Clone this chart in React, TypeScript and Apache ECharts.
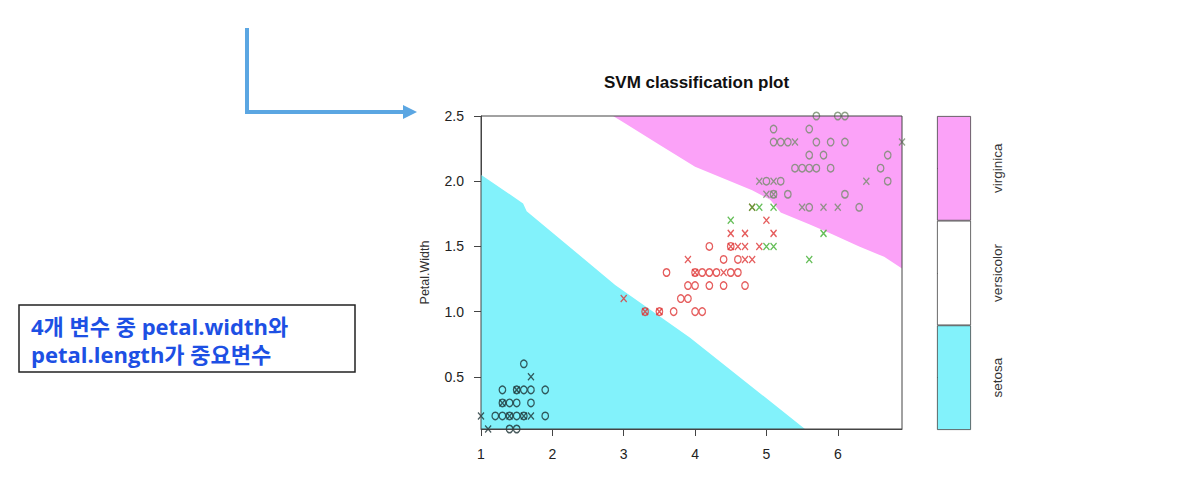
import React, { useEffect, useRef } from 'react';
import * as echarts from 'echarts';

// ---- axis ticks / categories ----
const xTicks = [1, 2, 3, 4, 5, 6];
const yTicks = [0.5, 1.0, 1.5, 2.0, 2.5];
const classNames = ['setosa', 'versicolor', 'virginica'];

// ---- decision region boundaries (Petal.Length, Petal.Width) ----
const setosaEdge = [
  [1.0, 2.05], [1.59, 1.83], [1.64, 1.77], [2.88, 1.205], [3.93, 0.8], [5.54, 0.1],
];
const virginicaEdge = [
  [2.85, 2.5], [3.0, 2.45], [3.5, 2.28], [4.0, 2.11], [4.4, 2.02], [4.8, 1.93], [5.05, 1.86],
  [5.2, 1.76], [5.6, 1.67], [5.9, 1.6], [6.3, 1.5], [6.65, 1.42], [6.9, 1.33],
];

// ---- data points: o = data point, x = support vector ----
const setosaO = [
  [1.6, 0.6], [1.3, 0.4], [1.5, 0.4], [1.6, 0.4], [1.7, 0.4], [1.9, 0.4], [1.3, 0.3], [1.4, 0.3],
  [1.5, 0.3], [1.7, 0.3], [1.2, 0.2], [1.3, 0.2], [1.4, 0.2], [1.5, 0.2], [1.6, 0.2], [1.9, 0.2],
  [1.4, 0.1], [1.5, 0.1],
];
const setosaX = [
  [1.7, 0.5], [1.5, 0.4], [1.3, 0.3], [1.0, 0.2], [1.4, 0.2], [1.6, 0.2], [1.7, 0.2], [1.1, 0.1],
];
const versicolorO = [
  [3.6, 1.3], [4.0, 1.3], [4.1, 1.3], [4.2, 1.3], [4.3, 1.3], [4.5, 1.3], [4.6, 1.3], [3.9, 1.2],
  [4.0, 1.2], [4.2, 1.2], [4.4, 1.2], [4.7, 1.2], [3.8, 1.1], [3.9, 1.1], [3.3, 1.0], [3.5, 1.0],
  [3.7, 1.0], [4.0, 1.0], [4.1, 1.0], [4.2, 1.5], [4.5, 1.5], [4.4, 1.4], [4.6, 1.4],
];
const versicolorX = [
  [3.9, 1.4], [4.7, 1.4], [4.8, 1.4], [4.0, 1.3], [4.4, 1.3], [3.0, 1.1], [3.3, 1.0], [3.5, 1.0],
  [4.5, 1.5], [4.6, 1.5], [4.7, 1.5], [4.9, 1.5], [4.5, 1.6], [4.7, 1.6], [5.1, 1.6], [5.0, 1.7],
  [4.8, 1.8],
];
const virginicaO = [
  [5.7, 2.5], [6.0, 2.5], [6.1, 2.5], [5.1, 2.4], [5.6, 2.4], [5.1, 2.3], [5.2, 2.3], [5.3, 2.3],
  [5.7, 2.3], [5.9, 2.3], [6.1, 2.3], [5.6, 2.2], [5.8, 2.2], [6.7, 2.2], [5.4, 2.1], [5.5, 2.1],
  [5.6, 2.1], [5.7, 2.1], [5.9, 2.1], [6.6, 2.1], [5.0, 2.0], [5.2, 2.0], [6.7, 2.0], [5.1, 1.9],
  [5.3, 1.9], [6.1, 1.9], [5.6, 1.8], [6.3, 1.8],
];
const virginicaX = [
  [5.4, 2.3], [6.9, 2.3], [4.9, 2.0], [5.1, 2.0], [6.4, 2.0], [5.0, 1.9], [5.1, 1.9], [5.5, 1.8],
  [5.8, 1.8], [6.0, 1.8],
];
const virginicaXOutside = [
  [4.8, 1.8], [4.9, 1.8], [5.1, 1.8], [4.5, 1.7], [5.8, 1.6], [5.0, 1.5], [5.1, 1.5], [5.6, 1.4],
];

const CYAN = '#82f2fb';
const PINK = '#fba2f8';
const FONT = 'Liberation Sans, Arial, sans-serif';
const NOTE_FONT = "'Open Sans', 'Noto Sans CJK KR', sans-serif";

const oSeries = (data: number[][], color: string) => ({
  type: 'scatter',
  data,
  symbol: 'circle',
  symbolSize: [6.5, 7.5],
  itemStyle: { color: 'rgba(0,0,0,0)', borderColor: color, borderWidth: 1.35 },
  silent: true,
  z: 3,
});
const xSeries = (data: number[][], color: string) => ({
  type: 'scatter',
  data,
  symbol: 'path://M0,0L10,10M10,0L0,10',
  symbolSize: [6, 7],
  itemStyle: { color: 'rgba(0,0,0,0)', borderColor: color, borderWidth: 1.35 },
  silent: true,
  z: 4,
});

export default function App() {
  const ref = useRef<HTMLDivElement>(null);
  useEffect(() => {
    const chart = echarts.init(ref.current!, null, { renderer: 'svg' });
    const option: any = {
      animation: false,
      backgroundColor: '#fff',
      textStyle: { fontFamily: FONT },
      title: {
        text: 'SVM classification plot',
        left: 599,
        top: 69,
        textStyle: { fontSize: 17, fontWeight: 'bold', color: '#111', fontFamily: FONT },
      },
      grid: [
        { left: 481, top: 116, width: 421, height: 313, show: true, borderColor: '#444', borderWidth: 1, backgroundColor: 'transparent', z: 5 },
        { left: 937, top: 116, width: 34, height: 314 },
      ],
      xAxis: [
        {
          type: 'value', gridIndex: 0, min: 1, max: 6.9,
          axisLine: { show: true, lineStyle: { color: '#444' } },
          axisTick: { show: true, length: 7, customValues: xTicks, lineStyle: { color: '#444' } },
          axisLabel: { customValues: xTicks, margin: 18, fontSize: 14, color: '#222', fontFamily: FONT },
          splitLine: { show: false },
        },
        { type: 'value', gridIndex: 1, min: 0, max: 1, show: false },
      ],
      yAxis: [
        {
          type: 'value', gridIndex: 0, min: 0.1, max: 2.5,
          name: 'Petal.Width', nameLocation: 'middle', nameGap: 50,
          nameTextStyle: { fontSize: 12.5, color: '#333', fontFamily: FONT },
          axisLine: { show: true, lineStyle: { color: '#444' } },
          axisTick: { show: true, length: 7, customValues: yTicks, lineStyle: { color: '#444' } },
          axisLabel: {
            customValues: yTicks, margin: 17, fontSize: 14, color: '#222', fontFamily: FONT,
            formatter: (v: number) => v.toFixed(1),
          },
          splitLine: { show: false },
        },
        {
          type: 'category', gridIndex: 1, data: classNames, position: 'right',
          axisLine: { show: false },
          axisTick: { show: true, alignWithLabel: true, length: 8, lineStyle: { color: '#444' } },
          axisLabel: { rotate: 90, margin: 19, fontSize: 13.5, color: '#333', fontFamily: FONT },
          splitLine: { show: false },
        },
      ],
      series: [
        {
          type: 'line', xAxisIndex: 0, yAxisIndex: 0, data: setosaEdge, symbol: 'none',
          lineStyle: { width: 0, opacity: 0 }, areaStyle: { color: CYAN, opacity: 1, origin: 'start' },
          silent: true, z: 1,
        },
        {
          type: 'line', xAxisIndex: 0, yAxisIndex: 0, data: virginicaEdge, symbol: 'none',
          lineStyle: { width: 0, opacity: 0 }, areaStyle: { color: PINK, opacity: 1, origin: 'end' },
          silent: true, z: 1,
        },
        oSeries(setosaO, '#1c3234'),
        xSeries(setosaX, '#1c3234'),
        oSeries(versicolorO, '#de3535'),
        xSeries(versicolorX, '#de3535'),
        oSeries(virginicaO, '#748c6c'),
        xSeries(virginicaX, '#748c6c'),
        xSeries(virginicaXOutside, '#3fae2e'),
        {
          type: 'bar', xAxisIndex: 1, yAxisIndex: 1, barWidth: '100%', silent: true,
          data: [
            { value: 1, itemStyle: { color: CYAN } },
            { value: 1, itemStyle: { color: '#ffffff' } },
            { value: 1, itemStyle: { color: PINK } },
          ],
          itemStyle: { borderColor: '#444', borderWidth: 0.8 },
        },
      ],
      graphic: [
        {
          type: 'polyline', shape: { points: [[247, 28], [247, 112], [406, 112]] },
          style: { stroke: '#5ba6e2', lineWidth: 4, fill: 'none' },
        },
        {
          type: 'polygon', shape: { points: [[403, 105], [417, 112], [403, 119]] },
          style: { fill: '#5ba6e2' },
        },
        {
          type: 'rect', shape: { x: 19, y: 305, width: 336, height: 67 },
          style: { fill: '#fff', stroke: '#222', lineWidth: 1.5 },
        },
        {
          type: 'text', x: 31, y: 326,
          style: {
            text: '4개 변수 중 petal.width와', fill: '#1d50e4', fontSize: 22, fontWeight: 'bold',
            fontFamily: NOTE_FONT, verticalAlign: 'middle', align: 'left',
          },
        },
        {
          type: 'text', x: 31, y: 354,
          style: {
            text: 'petal.length가 중요변수', fill: '#1d50e4', fontSize: 22, fontWeight: 'bold',
            fontFamily: NOTE_FONT, verticalAlign: 'middle', align: 'left',
          },
        },
      ],
    };
    chart.setOption(option);
    return () => chart.dispose();
  }, []);
  return (
    <div
      ref={ref}
      style={{ position: 'fixed', left: 0, top: 0, width: 1177, height: 481, background: '#fff' }}
    />
  );
}
